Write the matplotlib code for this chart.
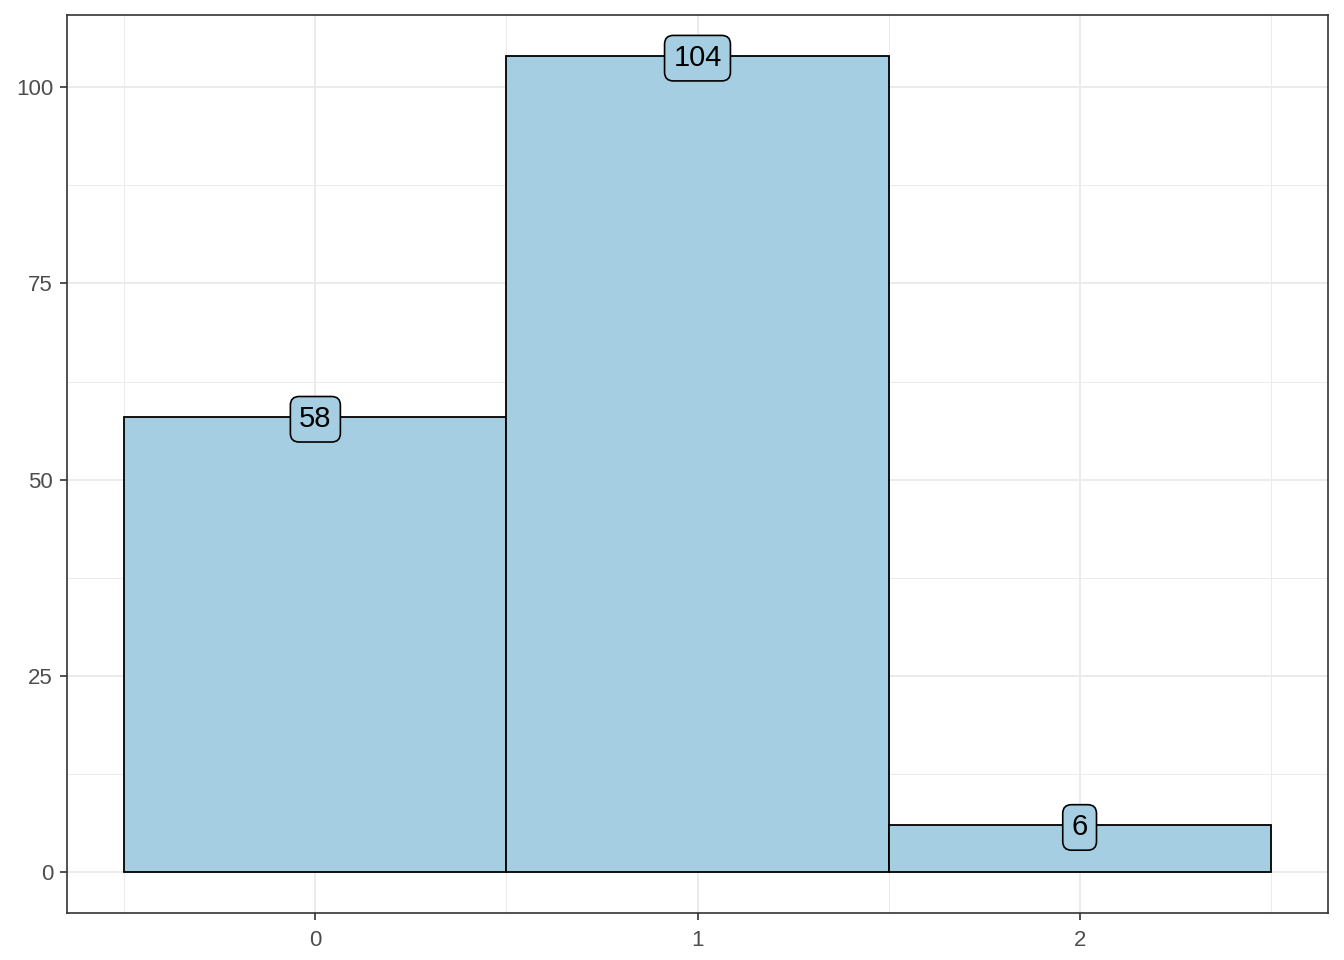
import numpy as np
from matplotlib import pyplot as plt
from matplotlib.ticker import MultipleLocator

# Data
categories = [0, 1, 2]
counts = [58, 104, 6]

fill_col = '#A6CEE3'
grid_col = '#EBEBEB'

plt.rcParams['font.family'] = ['Liberation Sans', 'DejaVu Sans']

fig = plt.figure(figsize=(13.44, 9.6), dpi=100)
ax = fig.add_axes([67 / 1344, 1 - 913 / 960, (1328 - 67) / 1344, (913 - 15) / 960])

ax.bar(categories, counts, width=1.0, color=fill_col, edgecolor='black',
       linewidth=1.3, zorder=3)

for x, c in zip(categories, counts):
    ax.text(x, c - 0.3, str(c), ha='center', va='center', fontsize=21, color='black',
            zorder=5,
            bbox=dict(boxstyle='round,pad=0.3,rounding_size=0.3',
                      facecolor=fill_col, edgecolor='black', linewidth=1.2))

ax.set_xlim(-0.65, 2.65)
ax.set_ylim(-5.2, 109.2)
ax.set_xticks(categories)
ax.set_yticks([0, 25, 50, 75, 100])
ax.xaxis.set_minor_locator(MultipleLocator(1, offset=0.5))
ax.yaxis.set_minor_locator(MultipleLocator(25, offset=12.5))

ax.grid(which='major', color=grid_col, linewidth=1.4, zorder=0)
ax.grid(which='minor', color=grid_col, linewidth=0.7, zorder=0)
ax.set_axisbelow(True)

for s in ax.spines.values():
    s.set_color('#333333')
    s.set_linewidth(1.2)

ax.tick_params(which='major', length=5, width=1.2, color='#333333',
               labelsize=16, labelcolor='#4D4D4D', pad=5)
ax.tick_params(axis='x', which='major', pad=7)
ax.tick_params(which='minor', length=0)

fig.savefig('out.png', dpi=100, facecolor='white')
